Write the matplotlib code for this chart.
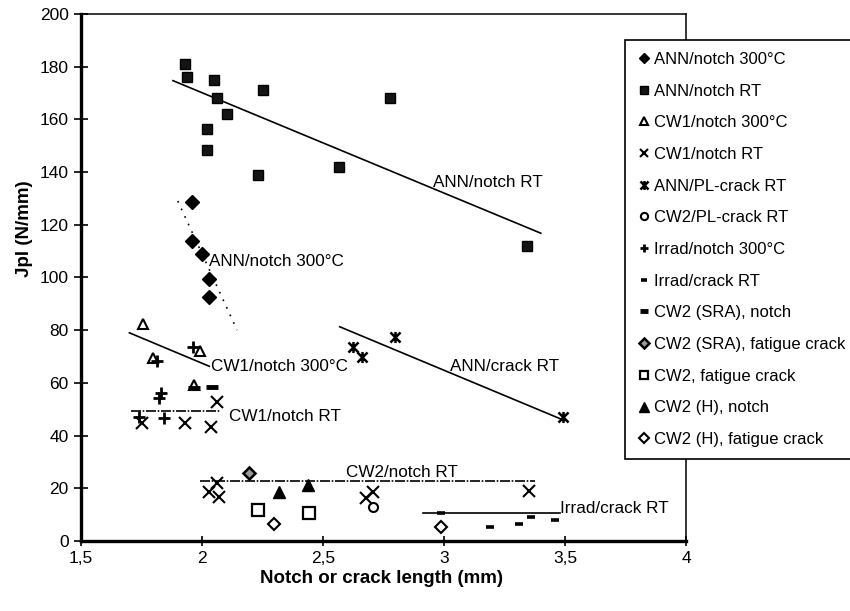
import numpy as np
import matplotlib
matplotlib.use("Agg")
import matplotlib.pyplot as plt
from matplotlib.path import Path

plt.rcParams['font.family'] = ['Liberation Sans', 'DejaVu Sans']

# measured points, (notch or crack length in mm, Jpl in N/mm)
ann_notch_300_x = [1.96, 1.96, 2.00, 2.03, 2.03]
ann_notch_300_y = [128.5, 113.7, 108.9, 99.4, 92.6]

ann_notch_rt_x = [1.931, 1.94, 2.051, 2.251, 2.06, 2.778, 2.102, 2.021, 2.021, 2.232, 2.564, 3.341]
ann_notch_rt_y = [181, 176, 175, 171, 168, 168, 162, 156.5, 148.5, 139, 142, 112]

cw1_notch_300_x = [1.758, 1.796, 1.993, 1.968]
cw1_notch_300_y = [82.2, 69.3, 72.2, 59.2]

cw1_notch_rt_x = [1.754, 1.929, 2.039, 2.06, 2.03, 2.06, 2.071, 2.678, 2.706, 3.35]
cw1_notch_rt_y = [44.7, 44.7, 43.1, 52.9, 18.7, 21.9, 16.8, 16.2, 18.7, 19.1]

ann_pl_crack_x = [2.623, 2.66, 2.798, 3.493]
ann_pl_crack_y = [73.7, 69.7, 77.5, 47.2]

cw2_pl_crack_x = [2.706]
cw2_pl_crack_y = [13]

irrad_notch_300_x = [1.816, 1.961, 1.83, 1.823, 1.741, 1.841]
irrad_notch_300_y = [68.3, 73.5, 56, 54.2, 47.2, 46.6]

irrad_crack_rt_x = [2.986, 3.192, 3.309, 3.36, 3.46]
irrad_crack_rt_y = [10.5, 5.2, 6.5, 9.2, 8.0]

cw2_sra_notch_x = [1.968, 2.04]
cw2_sra_notch_y = [58, 58.6]

cw2_sra_fat_x = [2.193]
cw2_sra_fat_y = [25.9]

cw2_fat_x = [2.23, 2.444]
cw2_fat_y = [11.8, 10.5]

cw2_h_notch_x = [2.317, 2.437]
cw2_h_notch_y = [18.7, 21.3]

cw2_h_fat_x = [2.299, 2.986]
cw2_h_fat_y = [6.5, 5.4]

# trend lines (end points) and their labels
trend_names = ['ANN/notch RT', 'ANN/notch 300°C', 'CW1/notch 300°C', 'CW1/notch RT',
               'ANN/crack RT', 'CW2/notch RT', 'Irrad/crack RT']
trend_x = [(1.88, 3.40), (1.90, 2.145), (1.70, 2.03), (1.706, 2.079),
           (2.569, 3.493), (1.99, 3.376), (2.914, 3.48)]
trend_y = [(174.7, 116.8), (129, 80), (79, 66.3), (49.4, 49.4),
           (81.3, 45.9), (22.7, 22.7), (10.7, 10.7)]
trend_styles = ['-', (0, (1, 4)), '-', (0, (6, 1, 1, 1)), '-', (0, (6, 1, 1, 1)), '-']
label_x = [2.955, 2.03, 2.037, 2.11, 3.024, 2.596, 3.48]
label_y = [136.1, 106, 66.3, 47.4, 66.4, 25.9, 12.5]

x_ticks = [1.5, 2, 2.5, 3, 3.5, 4]
x_tick_labels = ['1,5', '2', '2,5', '3', '3,5', '4']
y_ticks = list(range(0, 201, 20))

# asterisk like marker: x with a vertical bar
star = Path([(-1, -1), (1, 1), (-1, 1), (1, -1), (0, -1.1), (0, 1.1)],
            [Path.MOVETO, Path.LINETO, Path.MOVETO, Path.LINETO, Path.MOVETO, Path.LINETO])

fig = plt.figure(figsize=(8.5, 6.11), dpi=100)
ax = fig.add_axes([0.0953, 0.1146, 0.7118, 0.8625])

for tx, ty, ls in zip(trend_x, trend_y, trend_styles):
    ax.plot(tx, ty, color='black', lw=1.2, linestyle=ls, zorder=2)
for name, lx, ly in zip(trend_names, label_x, label_y):
    ax.text(lx, ly, name, fontsize=12.3, ha='left', va='center', zorder=4)

k = dict(linestyle='none', color='black', zorder=3)
ax.plot(ann_notch_300_x, ann_notch_300_y, marker='D', ms=7, label='ANN/notch 300°C', **k)
ax.plot(ann_notch_rt_x, ann_notch_rt_y, marker='s', ms=7.5, mfc='#141414', mec='black',
        label='ANN/notch RT', **k)
ax.plot(cw1_notch_300_x, cw1_notch_300_y, marker='^', ms=7, mfc='white', mew=1.5,
        label='CW1/notch 300°C', **k)
ax.plot(cw1_notch_rt_x, cw1_notch_rt_y, marker='x', ms=8, mew=1.5, label='CW1/notch RT', **k)
ax.plot(ann_pl_crack_x, ann_pl_crack_y, marker=star, ms=8, mew=1.8, mfc='none',
        label='ANN/PL-crack RT', **k)
ax.plot(cw2_pl_crack_x, cw2_pl_crack_y, marker='o', ms=6.5, mfc='white', mew=1.5,
        label='CW2/PL-crack RT', **k)
ax.plot(irrad_notch_300_x, irrad_notch_300_y, marker='+', ms=8, mew=2, label='Irrad/notch 300°C', **k)
ax.plot(irrad_crack_rt_x, irrad_crack_rt_y, marker='_', ms=6, mew=2.6, label='Irrad/crack RT', **k)
ax.plot(cw2_sra_notch_x, cw2_sra_notch_y, marker='_', ms=8, mew=3.5, label='CW2 (SRA), notch', **k)
ax.plot(cw2_sra_fat_x, cw2_sra_fat_y, marker='D', ms=6, mfc='#9a9a9a', mew=1.8,
        label='CW2 (SRA), fatigue crack', **k)
ax.plot(cw2_fat_x, cw2_fat_y, marker='s', ms=8, mfc='white', mew=1.6, label='CW2, fatigue crack', **k)
ax.plot(cw2_h_notch_x, cw2_h_notch_y, marker='^', ms=9, label='CW2 (H), notch', **k)
ax.plot(cw2_h_fat_x, cw2_h_fat_y, marker='D', ms=6, mfc='white', mew=1.5,
        label='CW2 (H), fatigue crack', **k)

ax.set_xlim(1.5, 4)
ax.set_ylim(0, 200)
ax.set_xticks(x_ticks)
ax.set_xticklabels(x_tick_labels)
ax.set_yticks(y_ticks)
ax.tick_params(axis='y', direction='inout', length=10, width=1.2, labelsize=12.5, pad=4)
ax.tick_params(axis='x', direction='inout', length=7, width=1.2, labelsize=12.5, pad=4)
for s in ['left', 'bottom']:
    ax.spines[s].set_linewidth(2.4)
for s in ['top', 'right']:
    ax.spines[s].set_linewidth(1.1)

ax.set_xlabel('Notch or crack length (mm)', fontsize=13.5, fontweight='bold')
ax.set_ylabel('Jpl (N/mm)', fontsize=13.5, fontweight='bold')
ax.xaxis.set_label_coords(0.496, -0.055)
ax.yaxis.set_label_coords(-0.08, 0.592)

leg = ax.legend(loc='upper left', bbox_to_anchor=(625 / 850, 1 - 40 / 611),
                bbox_transform=fig.transFigure, borderaxespad=0, fontsize=12,
                frameon=True, fancybox=False, edgecolor='black', framealpha=1,
                handlelength=0.8, handletextpad=0.25, labelspacing=1.0,
                markerscale=0.8, borderpad=0.72)
leg.get_frame().set_linewidth(1.2)

fig.savefig('out.png', dpi=100)
